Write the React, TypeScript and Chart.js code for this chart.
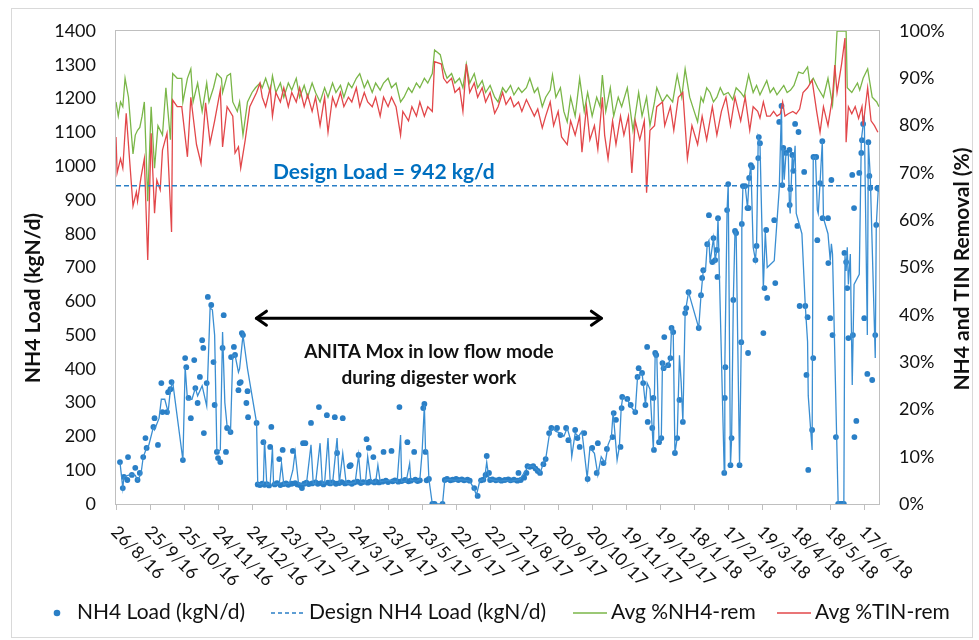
import React, { useEffect, useRef } from 'react';
import { Chart, registerables } from 'chart.js';
Chart.register(...registerables);

// ---------- DATA ----------
const xTickDays = [0, 30, 60, 90, 120, 150, 180, 210, 240, 270, 300, 330, 360, 390, 420, 450, 480, 510, 540, 570, 600, 630, 660];
const xTickLabels = ['26/8/16', '25/9/16', '25/10/16', '24/11/16', '24/12/16', '23/1/17', '22/2/17', '24/3/17', '23/4/17', '23/5/17', '22/6/17', '22/7/17', '21/8/17', '20/9/17', '20/10/17', '19/11/17', '19/12/17', '18/1/18', '17/2/18', '19/3/18', '18/4/18', '18/5/18', '17/6/18'];
const xMaxDay = 673;
const designLoad = 942;

// [day since 26/8/16, % removal]
const avgNH4Rem: [number, number][] = [
  [0,85],[2,82],[4,85],[6,84],[8,90],[11,86],[15,74],[17,78],[19,79],[21,79.6],[23,82],[25,85],[28,64],[31,84],[34,71],[37,80],[41,78],[44,88],[48,77],[50,91],[54,90],[58,90],[59,85],[63,90],[66,92],[68,85],[72,89],[76,83],[80,89],[82,85],[86,88],[89,91],[93,90],[94,87],[98,90.5],[101,91],[103,85],[107,83],[109,85],[112,78],[116,85],[120,87],[123,88],[127,89],[129,88],[132,90],[136,87],[138,90.5],[141,87],[145,89],[148,86],[152,89],[155,87.5],[159,90],[162,86],[166,88.5],[169,86],[173,89],[176,87],[180,85],[184,88],[187,86],[191,89],[194,87],[198,88.5],[201,86],[205,89],[208,88],[212,90],[215,91],[219,88],[222,89.5],[226,87],[229,89],[233,87.5],[236,89],[240,90],[243,88],[247,89],[251,85],[254,86],[258,88],[261,87],[265,89],[268,88],[272,90],[275,89],[279,91],[281,96],[286,95],[289,92],[292,90],[296,91],[299,89],[303,90],[306,88],[309,93],[312,89],[316,91],[319,88],[323,89.5],[326,87],[330,88.5],[334,86],[337,85],[341,88],[344,87],[348,88.5],[351,86.5],[355,88],[358,87],[362,88],[365,90],[369,87],[372,88],[376,84],[379,86],[383,87.5],[385,90.7],[388,86],[392,88],[395,83],[398,80.8],[401,86],[405,82],[409,90],[413,83],[416,87],[420,82],[424,86],[427,84],[429,90.7],[432,83],[436,88],[439,82],[443,86],[446,84],[451,88],[456,79],[461,87],[464,82],[468,86],[471,80],[475,85],[477,88],[482,85],[486,86.5],[491,85],[495,90.7],[499,86],[502,92],[506,86],[510,83],[513,80.8],[516,86],[518,85],[521,88],[524,87],[527,85],[530,86],[533,88],[536,86.5],[540,87],[544,85.5],[547,88],[551,87],[554,86],[558,90.7],[562,87],[565,88.5],[568,86.5],[571,88],[574,89.5],[577,87],[580,88],[583,86.5],[586,87.5],[589,88.5],[592,87],[595,87.5],[598,88.5],[602,91.3],[606,91],[610,92.4],[612,89],[615,90],[619,88],[624,86],[628,90],[632,84.4],[634,91],[636,100],[644,100],[645,88],[649,87],[654,89],[656,87.5],[659,90],[663,92],[667,86],[671,85],[673,84]
];

const avgTINRem: [number, number][] = [
  [0,77.6],[1,70],[4,73],[6,71],[9,82.6],[11,76],[15,63],[18,66],[19,64],[22,69],[25,73],[28,51.6],[31,78.4],[34,61.5],[36,68.5],[39,66.4],[41,74.8],[45,78.4],[49,57.5],[50,85.4],[54,84],[58,84],[63,73.4],[66,86],[71,76],[75,72],[79,84.8],[83,76.3],[87,81],[92,87.5],[94,75.5],[98,84],[103,82],[105,74.2],[108,75.5],[110,71],[114,77],[118,84],[124,87],[127,89],[129,86],[132,84],[136,88],[138,82],[141,87],[145,85],[148,88],[152,84],[155,87],[159,85],[162,88],[166,84],[169,86.5],[173,83],[176,86],[180,80],[184,86],[187,78.6],[191,86],[194,84],[198,87],[201,84],[205,86],[208,85],[212,88],[215,84],[219,87],[222,85],[226,84],[229,86],[233,82],[236,86],[240,84],[243,86],[247,84],[251,78],[253,83],[258,81],[261,84],[265,82],[268,85],[272,82],[275,84],[279,83],[281,93.5],[287,93],[289,90],[292,89],[296,90],[299,87],[303,88],[306,83],[309,93],[312,87],[316,89],[319,86],[323,88],[326,85],[330,87],[334,82.6],[337,84],[341,87],[344,84.5],[348,86],[351,84],[355,85],[358,83],[362,85.5],[365,84],[369,82],[372,83.5],[376,79.5],[379,82],[383,85],[386,80],[390,83],[393,77.6],[398,76],[401,81],[405,78],[409,82],[411,74.4],[415,84],[418,77],[422,80],[425,75],[429,86],[431,78],[434,73],[438,81],[441,76],[445,82],[448,78],[452,82],[455,70],[458,81],[462,77],[466,81],[468,65.8],[471,79],[475,80],[477,84],[482,85],[484,80],[489,84],[492,79],[496,86],[500,87],[504,73],[508,80],[513,76],[517,82],[521,77],[526,84],[530,78],[534,83],[538,86],[542,80],[546,86],[551,81],[555,86],[559,79],[562,84],[566,83],[568,81.6],[571,85],[574,82],[577,82],[580,83],[583,82],[586,82.5],[588,85],[590,82],[593,82.5],[597,83],[600,82.5],[603,83.5],[606,87],[610,88],[614,89.6],[618,83],[621,78.6],[624,84],[628,80],[632,86],[634,92.8],[636,87],[640,93],[643,98.5],[644,76.5],[646,84],[649,82.5],[652,84],[655,81.5],[658,84],[659,80],[663,88],[666,81],[669,80],[672,78.6]
];

// [day, kgN/d] trend line through the load data
const loadLine: [number, number][] = [
  [3.5,124],[6,47],[7,80],[10.6,85],[14,88],[17,85],[19,71],[22,88],[24,139],[27,166],[29,175],[33,228],[34,220],[38,254],[40,310],[43,310],[46,272],[48,340],[50,361],[59,130],[61,405],[63,310],[67,310],[70,343],[72,320],[76,350],[80,290],[83,580],[85,575],[87,500],[89,154],[92,160],[94,509],[96,300],[98,230],[101,213],[103,440],[105,441],[108,390],[109,400],[112,500],[114,450],[116,400],[124,240],[125,62],
  [127,58],[130,60],[131,190],[133,58],[136,60],[138,166],[139,58],[144,60],[146,120],[148,58],[153,62],[156,100],[158,154],[161,60],[165,58],[168,60],[172,175],[174,60],[176,60],[180,180],[182,60],[184,62],[187,195],[189,60],[191,60],[195,195],[197,62],[200,150],[203,62],[206,60],[211,64],[214,145],[216,64],[220,62],[222,140],[225,66],[229,64],[231,115],[233,66],[236,68],[242,70],[245,68],[248,66],[251,204],[252,66],[256,68],[259,120],[260,70],[265,68],[268,72],[270,154],[272,293],[273,160],[275,150],[276,74],[279,0],[288,0],[290,71],[295,72],[299,70],[304,72],[308,70],[312,68],[315,50],[318,27],[321,70],[325,72],[327,124],[329,74],[334,70],[339,68],[343,70],[348,68],[352,70],[356,72],[360,92],[364,112],[368,112],[372,100],[374,92],[377,120],[379,133],[382,200],[385,225],[388,215],[392,210],[395,200],[398,225],[401,189],[402,140],[405,210],[408,200],[411,215],[415.6,77],[418,166],[422,150],[425,86],[428,140],[431.5,121],[434,175],[437,200],[438.5,272],[442,130],[444,169],[445.6,284],[447,317],[451,311],[453.5,290],[458,272],[460,376],[464,388],[465,358],[467,293],[468.5,358],[471,340],[474,160],[475.6,447],[477,441],[479,183],[481,195],[482,417],[483.6,400],[487,411],[489,432],[490,521],[491.5,509],[493,151],[495,195],[497,440],[498.5,360],[500,243],[502,565],[505,627],[514,521],[516,618],[518,692],[520,692],[521.5,769],[523,780],[524,716],[527,787],[528.5,722],[530,752],[531,846],[536.5,92],[537,405],[539,870],[540,947],[542,115],[543,195],[544.5,604],[546,808],[547,802],[550,115],[551.5,479],[552,829],[553,941],[555,941],[557,876],[558.5,965],[560,1003],[562,760],[564,722],[565,764],[566.5,1086],[568,1068],[571,639],[572.7,805],[574.4,700],[580.6,720],[585,932],[587,1178],[587.7,944],[588.6,1054],[589.4,960],[591,1039],[593,1035],[594,885],[594.7,860],[596.5,1033],[597.4,990],[599,1060],[600,860],[605,800],[608,586],[610,480],[610.6,320],[614,160],[615,1027],[617,1027],[618.6,870],[619.4,860],[621,950],[623,1074],[624,846],[628,800],[630,720],[631,770],[632,740],[637,0],[642,0],[643,735],[644,690],[645,760],[646,650],[647.7,740],[649.4,352],[651,650],[655.6,680],[657.4,1077],[660,1150],[662.7,500],[663.6,1071],[665.3,971],[669.7,432],[670.6,826],[672.4,935],[673,932]
];

// [day, kgN/d] daily NH4 load measurements
const nh4Load: [number, number][] = [
  [3.5,124],[6,47],[7,80],[10,71],[10.6,139],[14,86],[17,107],[19,71],[21,92],[24,139],[26,195],[27,166],[33,228],[34,254],[37,175],[40,358],[41,272],[45,272],[46,331],[48,340],[49,361],[59,130],[61,432],[62,405],[64,314],[66,254],[69,426],[70,343],[72,299],[74,376],[76,485],[77,462],[77.5,210],[80,358],[81,613],[84,589],[86,420],[87,293],[89,154],[90,136],[92,124],[94,462],[95,559],[97,154],[98,225],[101,213],[101.5,435],[104,465],[105,441],[108,337],[109,358],[110,361],[111,506],[112,500],[115,299],[116,334],[116.5,257],[124,240],
  [125,58],[127,56],[129,60],[130,183],[131,57],[133,59],[135,55],[136,169],[137,228],[140,58],[142,62],[144,133],[145,56],[147,160],[148,59],[150,61],[152,57],[155,60],[156,157],[158,62],[160,58],[162,56],[164,47],[165,180],[166,60],[167,180],[168,63],[170,59],[172,240],[173,61],[176,64],[178,60],[179,287],[181,62],[183,58],[186,263],[187,63],[189,61],[191,64],[193,257],[194,60],[195,151],[197,62],[199,65],[200,254],[202,61],[205,63],[206,112],[207,115],[208,60],[210,64],[213,66],[214,145],[216,62],[218,65],[221,192],[222,63],[223,166],[224,66],[227,139],[228,64],[229,67],[232,64],[235,66],[236,154],[238,69],[240,65],[243,157],[244,67],[246,70],[249,66],[250,287],[252,68],[255,71],[257,183],[258,67],[260,69],[263,154],[264,72],[266,68],[268,70],[271,284],[272,296],[273,154],[274,70],[276,74],[279,0],[281,0],[288,0],
  [290,71],[292,74],[295,70],[297,72],[300,74],[302,71],[305,73],[307,70],[310,72],[312,69],[316,47],[319,24],[322,70],[324,72],[326,86],[327,142],[329,92],[330,71],[332,73],[335,70],[338,72],[340,69],[343,71],[346,73],[348,70],[351,72],[354,69],[355,92],[357,71],[360,78],[362,92],[363,112],[365,110],[368,112],[370,105],[372,98],[374,92],[377,118],[379,133],[382,210],[384,225],[389,225],[392,204],[397,225],[399,189],[405,219],[407,195],[409,169],[413,210],[416,74],[420,166],[424,92],[425,180],[430,121],[433,163],[438,198],[439,269],[441,249],[445,169],[446,284],[446.5,317],[451,311],[454,293],[458,272],[460,376],[461,402],[464,388],[465,358],[467,293],[468.5,465],[469,243],[473,225],[474,314],[474.5,160],[475.6,447],[476.5,441],[479,183],[481,195],[482,417],[483,402],[483.6,494],[487,411],[489,432],[490,521],[491.5,509],[493,151],[495,195],[497,308],[500,243],[502,565],[503,580],[505,627],
  [514,521],[516,618],[517,669],[518,692],[521.5,769],[523,855],[526,716],[527,787],[528.5,722],[530,752],[530.5,672],[531,846],[536.5,92],[537,314],[537.5,405],[539,870],[540,947],[542,115],[543,195],[544.5,604],[546,808],[547,802],[550,115],[551.5,479],[552,829],[553,941],[555,941],[557,876],[557.5,447],[558,876],[558.5,965],[560,1003],[561,997],[564,722],[565,764],[566.5,1024],[567,1086],[568,1068],[571,506],[572,639],[573.5,811],[574.4,610],[580.6,840],[581.5,654],[585,1131],[587,1178],[587.7,944],[588.6,1054],[591,1039],[594,1048],[594.2,885],[594.7,932],[596.5,1033],[597.4,986],[599,1125],[601,823],[602,1101],[603,586],[607,983],[608,586],[609,382],[610,553],[610.6,101],[614,219],[615,432],[615.2,1027],[617.6,1027],[618.6,781],[621,950],[623,1074],[623.2,846],[628,846],[628.3,713],[630,550],[631,959],[632,500],[635,198],[637,0],[639,0],[640.6,0],[642,0],[642.5,743],[644,716],[645,639],[646,491],[649.4,974],[650,500],[651,876],[651.3,198],[653,246],[655.6,980],[657.4,1039],[658,1077],[659,1125],[660,550],[662.7,385],[663.6,1071],[664.5,971],[665.3,935],[667,367],[669.7,500],[670.6,826],[671.5,935],[673,932]
];

// annotation anchors in data units
const arrowFromDay = 123;
const arrowToDay = 429;
const arrowLoad = 550;
const noteCenterDay = 276;
const noteLines = ['ANITA Mox in low flow mode', 'during digester work'];
const noteLoads = [450, 373];
const designLabel = 'Design Load = 942 kg/d';
const designLabelDay = 138.5;

const BLUE = '#2a7fc6';
const BLUE_LINE = '#3a8ed2';
const GREEN = '#7ab648';
const RED = '#e2474a';
const TEXT = '#111111';
const FONT = 'Lato';

const toXY = (arr: [number, number][]) => arr.map(([x, y]) => ({ x, y }));

const overlay = {
  id: 'overlay',
  afterDraw(chart: any) {
    const ctx = chart.ctx as CanvasRenderingContext2D;
    const { left, right, top, bottom } = chart.chartArea;
    const xs = chart.scales.x;
    const ys = chart.scales.y;
    ctx.save();
    // outer frame
    ctx.strokeStyle = '#d9d9d9';
    ctx.lineWidth = 1;
    ctx.strokeRect(11.5, 8.5, 961, 629);
    // plot border
    ctx.strokeStyle = '#bfbfbf';
    ctx.strokeRect(Math.round(left) - 0.5, Math.round(top) - 0.5, Math.round(right - left) + 1, Math.round(bottom - top) + 1);

    // x tick labels rotated clockwise
    ctx.fillStyle = TEXT;
    ctx.font = `17.5px ${FONT}`;
    ctx.textAlign = 'left';
    ctx.textBaseline = 'middle';
    xTickLabels.forEach((lab, i) => {
      const px = xs.getPixelForValue(xTickDays[i]);
      ctx.save();
      ctx.translate(px - 2, bottom + 25);
      ctx.rotate(Math.PI / 4);
      ctx.fillText(lab, 0, 0);
      ctx.restore();
    });

    // axis titles
    ctx.font = `bold 21px ${FONT}`;
    ctx.textAlign = 'center';
    ctx.save();
    ctx.translate(33, 298);
    ctx.rotate(-Math.PI / 2);
    ctx.fillText('NH4 Load (kgN/d)', 0, 0);
    ctx.restore();
    ctx.save();
    ctx.translate(962, 269);
    ctx.rotate(-Math.PI / 2);
    ctx.fillText('NH4 and TIN Removal (%)', 0, 0);
    ctx.restore();

    // design label
    ctx.font = `bold 21px ${FONT}`;
    ctx.fillStyle = '#0070c0';
    ctx.textAlign = 'left';
    ctx.fillText(designLabel, xs.getPixelForValue(designLabelDay), ys.getPixelForValue(designLoad) - 14);

    // double arrow
    const ax1 = xs.getPixelForValue(arrowFromDay);
    const ax2 = xs.getPixelForValue(arrowToDay);
    const ay = ys.getPixelForValue(arrowLoad);
    ctx.strokeStyle = '#000';
    ctx.lineWidth = 3;
    ctx.lineCap = 'round';
    ctx.lineJoin = 'round';
    ctx.beginPath();
    ctx.moveTo(ax1 + 1, ay);
    ctx.lineTo(ax2 - 1, ay);
    ctx.stroke();
    ctx.beginPath();
    ctx.moveTo(ax1 + 11, ay - 7);
    ctx.lineTo(ax1 + 1, ay);
    ctx.lineTo(ax1 + 11, ay + 7);
    ctx.moveTo(ax2 - 11, ay - 7);
    ctx.lineTo(ax2 - 1, ay);
    ctx.lineTo(ax2 - 11, ay + 7);
    ctx.stroke();

    // note text
    ctx.fillStyle = TEXT;
    ctx.font = `bold 19px ${FONT}`;
    ctx.textAlign = 'center';
    noteLines.forEach((t, i) => ctx.fillText(t, xs.getPixelForValue(noteCenterDay), ys.getPixelForValue(noteLoads[i])));

    // legend
    const ly = 612;
    ctx.font = `21px ${FONT}`;
    ctx.textAlign = 'left';
    ctx.fillStyle = BLUE;
    ctx.beginPath();
    ctx.arc(57, ly + 1, 3.3, 0, Math.PI * 2);
    ctx.fill();
    ctx.fillStyle = TEXT;
    ctx.fillText('NH4 Load (kgN/d)', 77, ly);
    ctx.lineCap = 'butt';
    ctx.lineWidth = 1.6;
    ctx.strokeStyle = BLUE;
    ctx.setLineDash([4, 3]);
    ctx.beginPath();
    ctx.moveTo(271, ly + 1);
    ctx.lineTo(305, ly + 1);
    ctx.stroke();
    ctx.setLineDash([]);
    ctx.fillText('Design NH4 Load (kgN/d)', 309, ly);
    ctx.strokeStyle = GREEN;
    ctx.beginPath();
    ctx.moveTo(573, ly + 1);
    ctx.lineTo(607, ly + 1);
    ctx.stroke();
    ctx.fillText('Avg %NH4-rem', 611, ly);
    ctx.strokeStyle = RED;
    ctx.beginPath();
    ctx.moveTo(777, ly + 1);
    ctx.lineTo(811, ly + 1);
    ctx.stroke();
    ctx.fillText('Avg %TIN-rem', 815, ly);
    ctx.restore();
  },
};

export default function App() {
  const ref = useRef<HTMLCanvasElement>(null);
  useEffect(() => {
    let chart: Chart | null = null;
    let cancelled = false;
    const make = () => {
      if (cancelled || !ref.current) return;
      chart = new Chart(ref.current, {
        type: 'line',
        data: {
          datasets: [
            { label: 'Design NH4 Load (kgN/d)', data: [{ x: 0, y: designLoad }, { x: xMaxDay, y: designLoad }], yAxisID: 'y', borderColor: BLUE, borderDash: [5, 3], borderWidth: 1.6, pointRadius: 0 },
            { label: 'Avg %TIN-rem', data: toXY(avgTINRem), yAxisID: 'y2', borderColor: RED, borderWidth: 1.3, pointRadius: 0 },
            { label: 'Avg %NH4-rem', data: toXY(avgNH4Rem), yAxisID: 'y2', borderColor: GREEN, borderWidth: 1.3, pointRadius: 0 },
            { label: 'NH4 Load trend', data: toXY(loadLine), yAxisID: 'y', borderColor: BLUE_LINE, borderWidth: 1.3, pointRadius: 0 },
            { label: 'NH4 Load (kgN/d)', data: toXY(nh4Load), yAxisID: 'y', showLine: false, pointRadius: 2.9, pointBackgroundColor: BLUE, pointBorderWidth: 0, borderColor: BLUE },
          ] as any,
        },
        options: {
          animation: false,
          responsive: false,
          devicePixelRatio: 1,
          events: [],
          layout: { padding: { top: 31, left: 0, right: 0, bottom: 0 } },
          plugins: { legend: { display: false }, tooltip: { enabled: false } },
          scales: {
            x: {
              type: 'linear', position: 'bottom', min: 0, max: xMaxDay,
              ticks: { display: false, stepSize: 30, includeBounds: false },
              grid: { display: true, drawOnChartArea: false, drawTicks: true, tickLength: 6, color: '#bfbfbf' },
              border: { display: false },
              afterFit: (s: any) => { s.height = 136; },
            },
            y: {
              position: 'left', min: 0, max: 1400,
              ticks: { stepSize: 100, font: { family: FONT, size: 18 }, color: TEXT, padding: 20, callback: (v: any) => String(v) },
              grid: { display: false, drawTicks: false },
              border: { display: false },
              afterFit: (s: any) => { s.width = 116; },
            },
            y2: {
              position: 'right', min: 0, max: 100,
              ticks: { stepSize: 10, font: { family: FONT, size: 18 }, color: TEXT, padding: 20, callback: (v: any) => String(v) + '%' },
              grid: { display: false, drawTicks: false },
              border: { display: false },
              afterFit: (s: any) => { s.width = 100; },
            },
          },
        } as any,
        plugins: [overlay],
      });
    };
    const fonts = (document as any).fonts;
    if (fonts && fonts.load) {
      Promise.all([fonts.load(`18px ${FONT}`), fonts.load(`bold 18px ${FONT}`)]).then(make, make);
    } else {
      make();
    }
    return () => {
      cancelled = true;
      if (chart) chart.destroy();
    };
  }, []);
  return (
    <canvas
      ref={ref}
      width={979}
      height={640}
      style={{ position: 'absolute', left: 0, top: 0, width: 979, height: 640, background: '#fff' }}
    />
  );
}
